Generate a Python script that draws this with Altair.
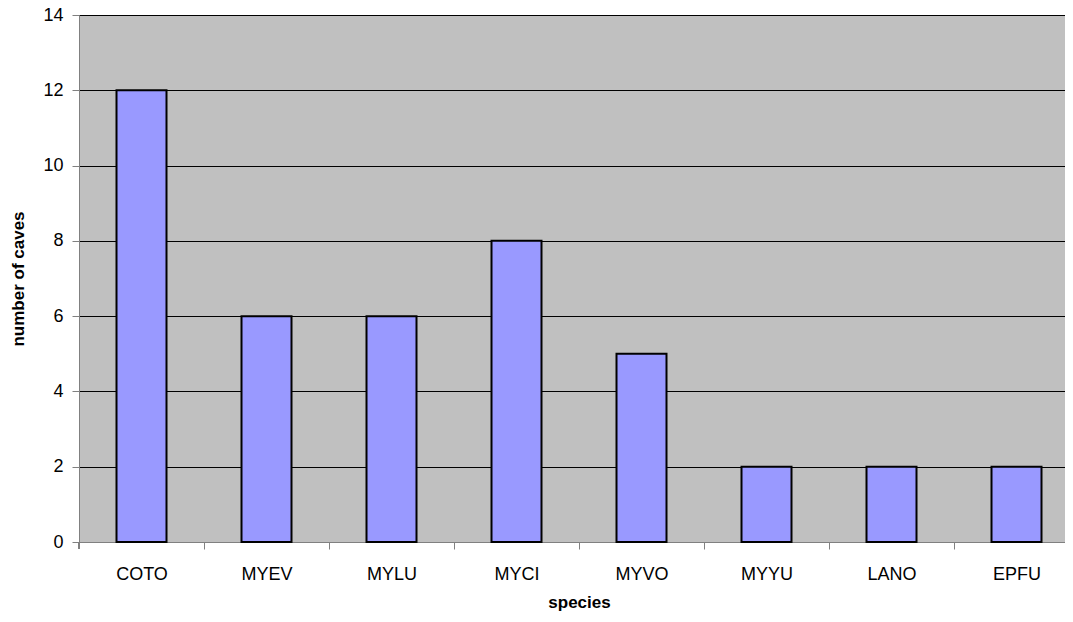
import altair as alt
import pandas as pd

species = ["COTO", "MYEV", "MYLU", "MYCI", "MYVO", "MYYU", "LANO", "EPFU"]
caves = [12, 6, 6, 8, 5, 2, 2, 2]

df = pd.DataFrame({"species": species, "caves": caves})

FONT = "Liberation Sans, Arial, sans-serif"

bars = alt.Chart(df).mark_bar(
    color="#9999FF", stroke="#000000", strokeWidth=2
).encode(
    x=alt.X(
        "species:N",
        sort=species,
        title="species",
        scale=alt.Scale(range=[0, 1000], paddingInner=0.6, paddingOuter=0.3),
        axis=alt.Axis(
            labelAngle=0,
            labelFont=FONT,
            labelFontSize=18,
            labelColor="#000000",
            labelPadding=16,
            labelOffset=-62.5,
            tickOffset=62.5,
            tickSize=7,
            tickWidth=1,
            tickColor="#808080",
            domainColor="#808080",
            titleFont=FONT,
            titleFontSize=17,
            titleFontWeight="bold",
            titleColor="#000000",
            titlePadding=11,
            grid=False,
        ),
    ),
    y=alt.Y(
        "caves:Q",
        title="number of caves",
        scale=alt.Scale(domain=[0, 14], nice=False),
        axis=alt.Axis(
            values=[0, 2, 4, 6, 8, 10, 12, 14],
            labelFont=FONT,
            labelFontSize=18,
            labelColor="#000000",
            labelPadding=9,
            tickSize=7,
            tickColor="#808080",
            domainColor="#808080",
            gridColor="#000000",
            gridWidth=1,
            gridOpacity=1,
            titleFont=FONT,
            titleFontSize=17,
            titleFontWeight="bold",
            titleColor="#000000",
            titlePadding=15,
        ),
    ),
)

origin_tick = alt.Chart(df).mark_rule(color="#808080", strokeWidth=1).encode(
    x=alt.value(0), y=alt.value(527), y2=alt.value(534)
)

chart = alt.layer(bars, origin_tick).properties(
    width=986,
    height=527,
    autosize=alt.AutoSizeParams(type="none"),
    padding={"left": 71, "top": 7, "right": 0, "bottom": 72},
).configure(
    background="#FFFFFF",
    view=alt.ViewConfig(fill="#C0C0C0", stroke="#808080", strokeWidth=1),
)

chart.save("out.html", embed_options={"renderer": "svg", "actions": False})
